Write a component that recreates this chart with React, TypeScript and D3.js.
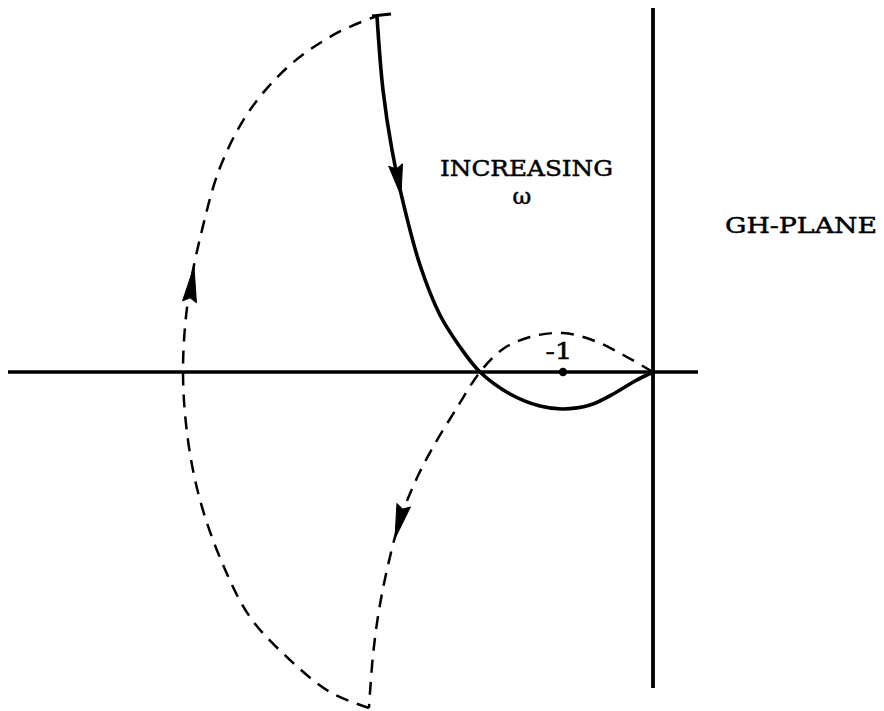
import React from "react";
import * as d3 from "d3";

// GH-plane Nyquist sketch, data in units where the -1 point is one unit left of origin
const solidCurve: [number, number][] = [
  [-3.067, 3.956], [-3.0, 3.133], [-2.9, 2.467], [-2.756, 1.8], [-2.589, 1.189],
  [-2.367, 0.633], [-2.144, 0.278], [-1.922, 0], [-1.589, -0.244], [-1.256, -0.378],
  [-1.0, -0.411], [-0.7, -0.367], [-0.422, -0.233], [-0.2, -0.1], [0, 0],
];

const dashedLower: [number, number][] = [
  [0, 0], [-0.311, 0.178], [-0.644, 0.344], [-1.0, 0.433], [-1.367, 0.389],
  [-1.667, 0.256], [-1.922, 0], [-2.2, -0.433], [-2.444, -0.833], [-2.644, -1.222],
  [-2.811, -1.644], [-2.944, -2.144], [-3.044, -2.644], [-3.111, -3.144], [-3.156, -3.733],
];

const dashedArc: [number, number][] = [
  [-3.156, -3.733], [-3.589, -3.556], [-4.033, -3.2], [-4.478, -2.722], [-4.8, -2.089],
  [-5.033, -1.422], [-5.167, -0.756], [-5.222, 0], [-5.167, 0.8], [-5.011, 1.578],
  [-4.8, 2.3], [-4.478, 2.911], [-4.033, 3.411], [-3.511, 3.767], [-3.067, 3.956],
];

const topTick: [number, number][] = [[-3.122, 3.956], [-2.911, 3.978]];

// arrow tip and base centre, in data units
const arrows: { tip: [number, number]; base: [number, number] }[] = [
  { tip: [-2.8, 1.96], base: [-2.86, 2.3] },
  { tip: [-5.1, 1.17], base: [-5.15, 0.78] },
  { tip: [-2.867, -1.85], base: [-2.77, -1.48] },
];

const xExtent: [number, number] = [-7.167, 0.5];
const yExtent: [number, number] = [-3.511, 4.044];
const criticalPoint: [number, number] = [-1, 0];

const W = 884;
const H = 711;

export default function App() {
  const x = d3.scaleLinear().domain([0, -1]).range([653, 563]);
  const y = d3.scaleLinear().domain([0, 1]).range([372, 282]);

  const line = d3
    .line<[number, number]>()
    .x((d) => x(d[0]))
    .y((d) => y(d[1]))
    .curve(d3.curveCatmullRom.alpha(0.5));
  const straight = d3
    .line<[number, number]>()
    .x((d) => x(d[0]))
    .y((d) => y(d[1]));

  const arrowPath = (a: { tip: [number, number]; base: [number, number] }) => {
    const tx = x(a.tip[0]), ty = y(a.tip[1]);
    const bx = x(a.base[0]), by = y(a.base[1]);
    const dx = tx - bx, dy = ty - by;
    const len = Math.hypot(dx, dy);
    const ux = dx / len, uy = dy / len;
    const px = -uy, py = ux;
    const hw = 7;
    const notch = 4;
    const p1 = [bx + px * hw, by + py * hw];
    const p2 = [bx - px * hw, by - py * hw];
    const pn = [bx + ux * notch, by + uy * notch];
    return `M${tx},${ty}L${p1[0]},${p1[1]}L${pn[0]},${pn[1]}L${p2[0]},${p2[1]}Z`;
  };

  const font = "'DejaVu Serif', serif";
  const textStyle = { fontFamily: font, fontSize: 23, fill: "#000", stroke: "#000", strokeWidth: 0.5 };

  return (
    <svg
      width={W}
      height={H}
      style={{ position: "absolute", left: 0, top: 0, background: "#fff" }}
    >
      <rect width={W} height={H} fill="#fff" />
      {/* axes */}
      <line x1={x(xExtent[0])} x2={x(xExtent[1])} y1={y(0)} y2={y(0)} stroke="#000" strokeWidth={3.4} />
      <line x1={x(0)} x2={x(0)} y1={y(yExtent[1])} y2={y(yExtent[0])} stroke="#000" strokeWidth={3.8} />
      {/* curves */}
      <path d={line(dashedArc) || ""} fill="none" stroke="#000" strokeWidth={2.5} strokeDasharray="13 9" />
      <path d={line(dashedLower) || ""} fill="none" stroke="#000" strokeWidth={2.5} strokeDasharray="13 9" />
      <path d={line(solidCurve) || ""} fill="none" stroke="#000" strokeWidth={3.6} />
      <path d={straight(topTick) || ""} fill="none" stroke="#000" strokeWidth={3} />
      {arrows.map((a, i) => (
        <path key={i} d={arrowPath(a)} fill="#000" stroke="#000" strokeWidth={1} strokeLinejoin="round" />
      ))}
      <circle cx={x(criticalPoint[0])} cy={y(criticalPoint[1])} r={4.2} fill="#000" />
      {/* text */}
      <text x={559} y={359} {...textStyle} textLength={27} lengthAdjust="spacingAndGlyphs" textAnchor="middle">-1</text>
      <text x={440} y={176} {...textStyle} textLength={173} lengthAdjust="spacingAndGlyphs">INCREASING</text>
      <text x={522} y={204} {...textStyle} textAnchor="middle">ω</text>
      <text x={725} y={233} {...textStyle} textLength={152} lengthAdjust="spacingAndGlyphs">GH-PLANE</text>
    </svg>
  );
}
